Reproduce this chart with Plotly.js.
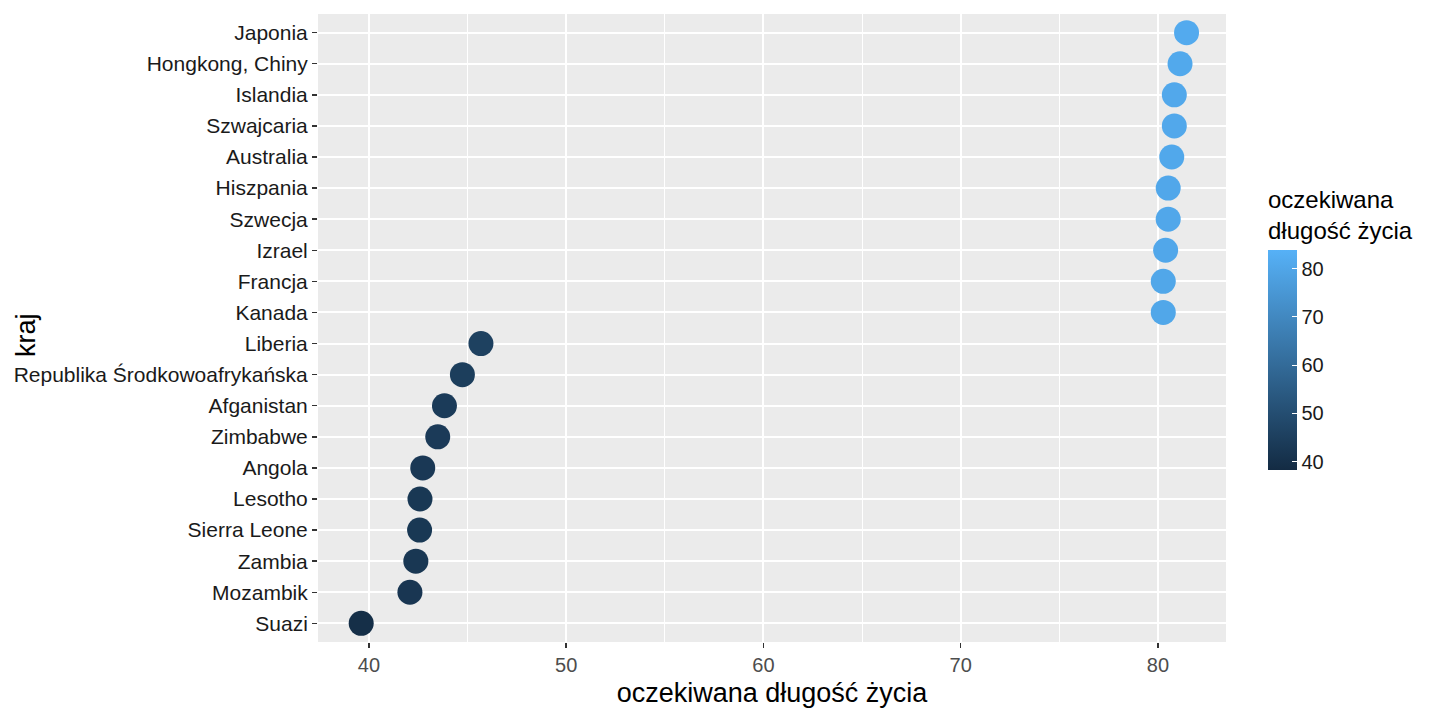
<!DOCTYPE html>
<html>
<head>
<meta charset="utf-8">
<script src="https://cdn.plot.ly/plotly-3.0.1.min.js"></script>
<style>html,body{margin:0;padding:0;background:#fff;}#chart{width:1440px;height:720px;}</style>
</head>
<body>
<div id="chart"></div>
<script>
// Countries top to bottom as shown
const countries = ["Japonia","Hongkong, Chiny","Islandia","Szwajcaria","Australia","Hiszpania","Szwecja","Izrael","Francja","Kanada","Liberia","Republika Środkowoafrykańska","Afganistan","Zimbabwe","Angola","Lesotho","Sierra Leone","Zambia","Mozambik","Suazi"];
const lifeExp = [81.45,81.12,80.83,80.83,80.70,80.52,80.52,80.39,80.27,80.27,45.68,44.74,43.83,43.49,42.73,42.59,42.57,42.38,42.08,39.61];
const xTicks = [40,50,60,70,80];
const cbTicks = [40,50,60,70,80];
const xTitle = "oczekiwana długość życia";
const yTitle = "kraj";
const cbTitle = "oczekiwana<br>długość życia";

const font = "Liberation Sans, Arial, Helvetica, sans-serif";
const catOrder = countries.slice().reverse();

const trace = {
  type: "scatter",
  mode: "markers",
  x: lifeExp,
  y: countries,
  marker: {
    size: 25,
    color: lifeExp,
    cmin: 38.3,
    cmax: 83.8,
    colorscale: [[0, "#132B43"], [1, "#56B1F7"]],
    line: {width: 0},
    opacity: 1,
    colorbar: {
      title: {text: cbTitle, side: "top", font: {family: font, size: 24, color: "#000"}},
      tickvals: cbTicks,
      ticktext: cbTicks.map(String),
      tickfont: {family: font, size: 20, color: "#1a1a1a"},
      ticks: "inside",
      ticklen: 5,
      tickcolor: "#ffffff",
      tickwidth: 1,
      outlinewidth: 0,
      thickness: 29,
      thicknessmode: "pixels",
      len: 283,
      lenmode: "pixels",
      x: (1268 - 318) / 908,
      xanchor: "left",
      xref: "paper",
      y: (642 - 470) / 628,
      yanchor: "bottom",
      ypad: 0,
      xpad: 0
    }
  },
  hoverinfo: "x+y",
  showlegend: false
};

const layout = {
  width: 1440,
  height: 720,
  margin: {l: 318, r: 214, t: 14, b: 78},
  paper_bgcolor: "#ffffff",
  plot_bgcolor: "#EBEBEB",
  font: {family: font, color: "#000"},
  xaxis: {
    range: [37.42, 83.45],
    tickvals: xTicks,
    ticktext: xTicks.map(String),
    tickfont: {family: font, size: 20, color: "#4D4D4D"},
    ticks: "outside",
    ticklen: 5,
    tickcolor: "#333333",
    tickwidth: 1.5,
    showgrid: true,
    gridcolor: "#ffffff",
    gridwidth: 2,
    zeroline: false,
    showline: false,
    minor: {dtick: 5, tick0: 0, showgrid: true, gridcolor: "#ffffff", gridwidth: 1, ticks: ""},
    title: {text: xTitle, font: {family: font, size: 27, color: "#000"}, standoff: 8}
  },
  yaxis: {
    type: "category",
    categoryorder: "array",
    categoryarray: catOrder,
    range: [-0.6, 19.6],
    tickfont: {family: font, size: 21, color: "#1a1a1a"},
    ticks: "outside",
    ticklen: 5,
    tickcolor: "#333333",
    tickwidth: 1.5,
    showgrid: true,
    gridcolor: "#ffffff",
    gridwidth: 2,
    zeroline: false,
    showline: false,
    title: {text: ""}
  },
  annotations: [{
    text: yTitle,
    xref: "paper", yref: "paper",
    x: (26 - 318) / 908, y: (642 - 335) / 628,
    xanchor: "center", yanchor: "middle",
    textangle: -90,
    showarrow: false,
    font: {family: font, size: 27, color: "#000"}
  }]
};

Plotly.newPlot("chart", [trace], layout, {displayModeBar: false, staticPlot: true});
</script>
</body>
</html>
